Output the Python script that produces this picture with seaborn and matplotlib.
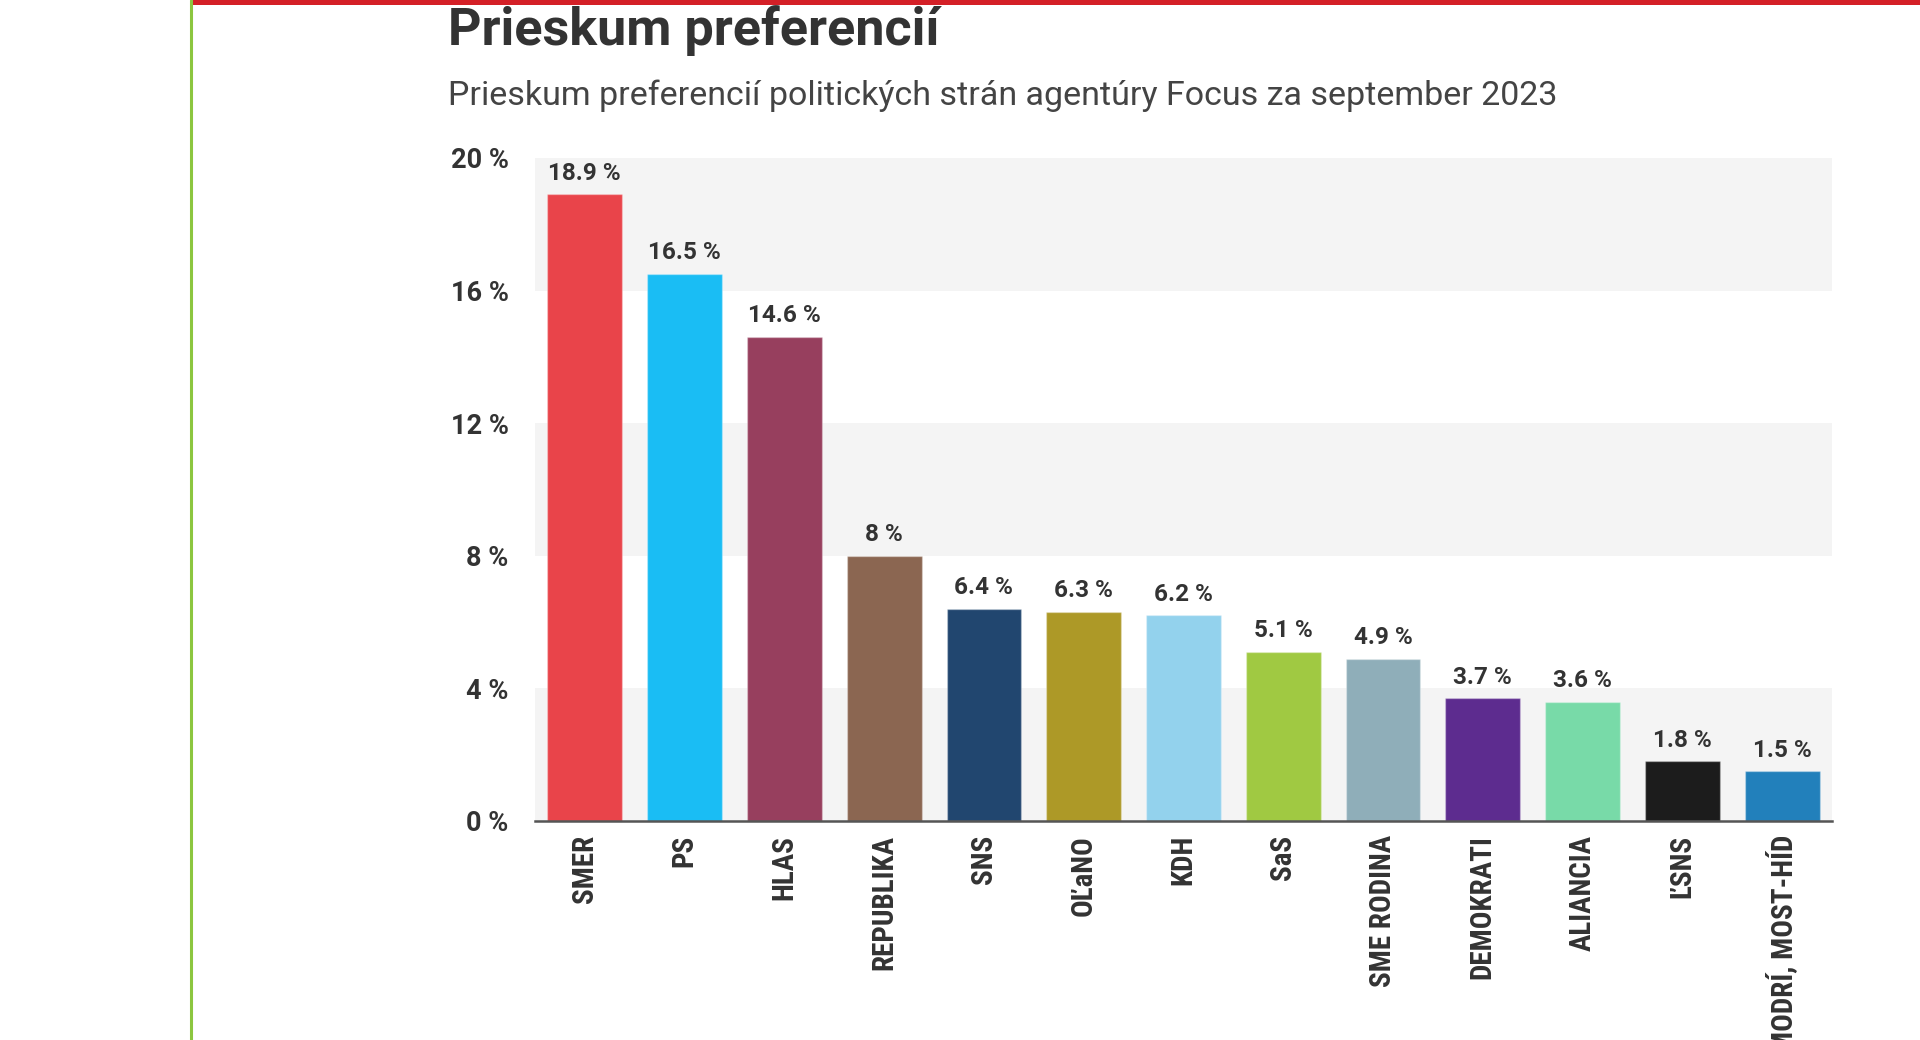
import matplotlib
matplotlib.use("Agg")
import matplotlib.pyplot as plt
import seaborn as sns
import pandas as pd
from matplotlib import font_manager
from matplotlib.patches import Rectangle
from matplotlib.lines import Line2D

# data
parties = ["SMER", "PS", "HLAS", "REPUBLIKA", "SNS", "OĽaNO", "KDH", "SaS",
           "SME RODINA", "DEMOKRATI", "ALIANCIA", "ĽSNS", "MODRÍ, MOST-HÍD"]
values = [18.9, 16.5, 14.6, 8, 6.4, 6.3, 6.2, 5.1, 4.9, 3.7, 3.6, 1.8, 1.5]
colors = ["#e9444a", "#1abdf4", "#973f5e", "#8b6651", "#21466f", "#ad9927",
          "#93d2ed", "#a0c942", "#8faeb9", "#5d2c8f", "#78daa8", "#1c1c1c",
          "#2280bb"]
y_ticks = [0, 4, 8, 12, 16, 20]

title = "Prieskum preferencií"
subtitle = "Prieskum preferencií politických strán agentúry Focus za september 2023"

df = pd.DataFrame({"party": parties, "value": values})

sns.set_theme(style="white")
plt.rcParams["font.family"] = ["Roboto", "DejaVu Sans"]

# narrow font for the party names if one is installed
names = {f.name for f in font_manager.fontManager.ttflist}
if "Roboto Condensed" in names:
    xfont, xsize = "Roboto Condensed", 21
elif "Liberation Sans Narrow" in names:
    xfont, xsize = "Liberation Sans Narrow", 20
else:
    xfont, xsize = "Roboto", 17.5

txt = "#333333"

fig = plt.figure(figsize=(19.2, 10.4), dpi=100)
ax = fig.add_axes([0.2786, 0.2106, 0.6756, 0.6375])

# alternating bands behind the bars
for i in range(len(y_ticks) - 1):
    if i % 2 == 0:
        ax.axhspan(y_ticks[i], y_ticks[i + 1], color="#f4f4f4", lw=0, zorder=0)

sns.barplot(data=df, x="party", y="value", hue="party", palette=colors,
            legend=False, width=0.75, saturation=1,
            edgecolor=(1, 1, 1, 0.3), linewidth=1, ax=ax, zorder=2)

ax.set_xlim(-0.5, len(parties) - 0.5)
ax.set_ylim(0, 20)
ax.set_yticks(y_ticks)
ax.set_yticklabels([f"{t} %" for t in y_ticks])
ax.set_xlabel("")
ax.set_ylabel("")

for s in ["top", "right", "left"]:
    ax.spines[s].set_visible(False)
ax.spines["bottom"].set_color("#555555")
ax.spines["bottom"].set_linewidth(1.8)
ax.spines["bottom"].set_zorder(3)

ax.tick_params(axis="y", length=0, pad=19, labelsize=19.5, labelcolor=txt)
ax.tick_params(axis="x", length=0, pad=10, labelcolor=txt)
for lab in ax.get_yticklabels():
    lab.set_fontweight("bold")
for lab in ax.get_xticklabels():
    lab.set_rotation(90)
    lab.set_ha("center")
    lab.set_va("top")
    lab.set_fontweight("bold")
    lab.set_family([xfont, "DejaVu Sans"])
    lab.set_fontsize(xsize)

for c in ax.containers:
    ax.bar_label(c, labels=[f"{v:g} %" for v in c.datavalues], padding=7,
                 fontsize=17.5, fontweight="bold", color=txt)

# page decoration: green left rule and red top strip
fig.add_artist(Line2D([0.0995, 0.0995], [0, 1], transform=fig.transFigure,
                      color="#8cc63f", lw=2.2))
fig.add_artist(Rectangle((0.1005, 0.9952), 0.9, 0.0048, transform=fig.transFigure,
                         color="#d42027", lw=0))

fig.text(0.2333, 0.9567, title, fontsize=37.5, fontweight="bold", color=txt,
         va="baseline", ha="left")
fig.text(0.2333, 0.899, subtitle, fontsize=24.5, color="#444444",
         va="baseline", ha="left")

fig.savefig("out.png", dpi=100)
